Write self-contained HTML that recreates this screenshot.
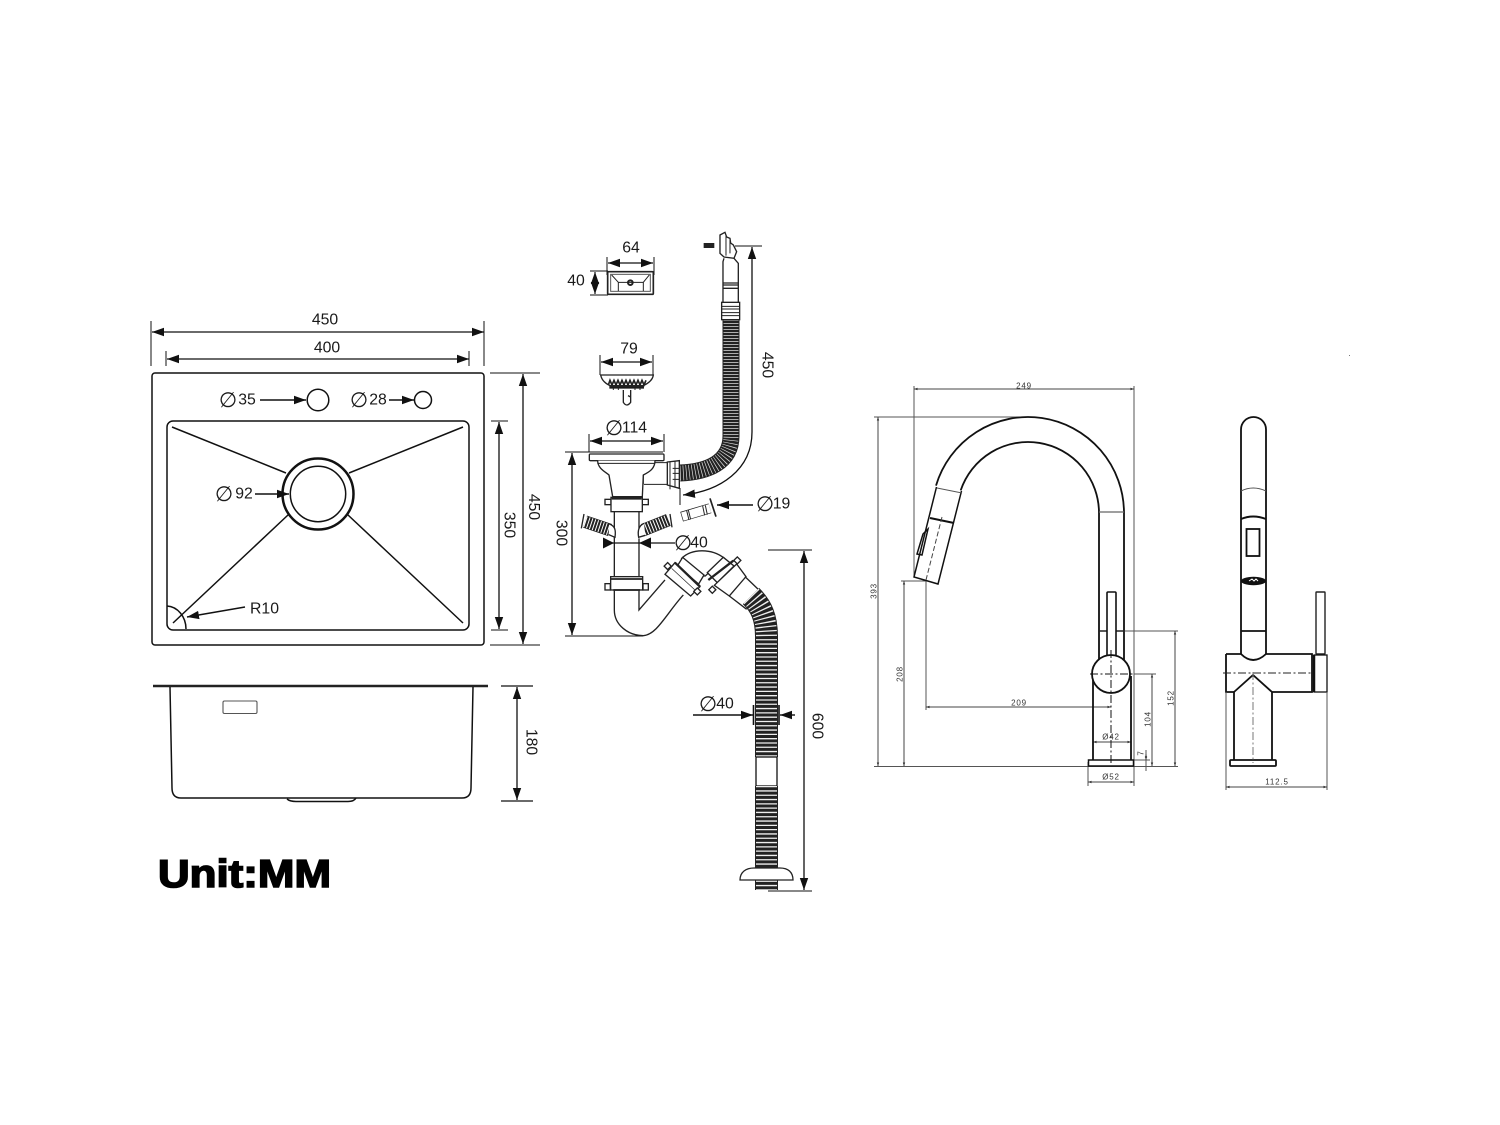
<!DOCTYPE html>
<html><head><meta charset="utf-8"><style>
html,body{margin:0;padding:0;background:#fff;width:1500px;height:1125px;overflow:hidden}
svg{display:block}
text{font-family:"Liberation Sans",sans-serif;fill:#1a1a1a}
.d{font-size:15.8px;text-anchor:middle;dominant-baseline:central}
.p{font-family:"DejaVu Sans",sans-serif;font-size:21px;text-anchor:middle;dominant-baseline:central}
.s{font-size:8px;letter-spacing:.8px;text-anchor:middle;dominant-baseline:central;fill:#333}
.l{fill:none;stroke:#111;stroke-width:1.5}
.a{fill:none;stroke:#111;stroke-width:1.3;marker-start:url(#A);marker-end:url(#A)}
.e{fill:none;stroke:#111;stroke-width:1.4;marker-end:url(#A)}
.g{fill:none;stroke:#555;stroke-width:1}
.t{fill:none;stroke:#444;stroke-width:1;marker-start:url(#B);marker-end:url(#B)}
.k{fill:none;stroke:#111;stroke-width:1.8}
.c{fill:none;stroke:#333;stroke-width:1;stroke-dasharray:8 2.5 2 2.5}
</style></head><body>
<svg width="1500" height="1125" viewBox="0 0 1500 1125" xmlns="http://www.w3.org/2000/svg">
<defs>
<marker id="A" markerUnits="userSpaceOnUse" markerWidth="14" markerHeight="10" refX="12" refY="5" orient="auto-start-reverse"><path d="M0,0.8L12,5L0,9.2Z" fill="#111"/></marker>
<marker id="B" markerUnits="userSpaceOnUse" markerWidth="4" markerHeight="4" refX="3.5" refY="2" orient="auto-start-reverse"><path d="M0,0.8L3.5,2L0,3.2Z" fill="#333"/></marker>
</defs>

<!-- SINK TOP VIEW -->
<rect class="l" x="152" y="373" width="332" height="272" rx="3"/>
<rect class="l" x="167" y="421" width="302" height="209" rx="6" stroke-width="1.7"/>
<path class="l" d="M172,427L286,473M463,427L349,473M173,623L288,515M463,623L348,515" stroke-width="1.3"/>
<circle cx="318" cy="494" r="35.5" fill="none" stroke="#111" stroke-width="2.5"/>
<circle cx="318" cy="494" r="27.7" class="l"/>
<circle cx="318" cy="400" r="10.8" class="l"/>
<circle cx="423" cy="400" r="8.5" class="l"/>
<path class="l" d="M167,606A20,23 0 0 1 186,629" stroke-width="1"/>
<path class="g" d="M151,321V366M484,321V366M166,351V366M469,351V366M490,373H540M490,645H540M491,421H508M491,630H508" style="stroke:#111"/>
<path class="a" d="M152,332H484"/>
<path class="a" d="M167,359H469"/>
<path class="a" d="M523,374V644"/>
<path class="a" d="M499,422V629"/>
<path class="e" d="M260,400H306"/>
<path class="e" d="M389,400H414"/>
<path class="e" d="M255,494H289"/>
<path class="e" d="M245,607L187,617"/>
<text class="d" x="325" y="320">450</text>
<text class="d" x="327" y="348">400</text>
<text class="p" x="228" y="400">∅</text><text class="d" x="247" y="400">35</text>
<text class="p" x="359" y="400">∅</text><text class="d" x="378" y="400">28</text>
<text class="p" x="224" y="494">∅</text><text class="d" x="244" y="494">92</text>
<text class="d" x="264.500" y="609">R10</text>
<text class="d" transform="translate(533.5,507) rotate(90)">450</text>
<text class="d" transform="translate(509,525) rotate(90)">350</text>

<!-- SINK SIDE VIEW -->
<path d="M153,686H488" stroke="#222" stroke-width="2.6" fill="none"/>
<path class="l" d="M170,687L172,788Q172,798 181,798H462Q471,798 471,788L473,687" stroke-width="1.7"/>
<path class="l" d="M287,799Q290,801.500 296,801.500H348Q354,801.500 356,798" stroke-width="1.3" stroke="#444"/>
<rect x="223" y="701" width="34" height="12.500" rx="1.500" fill="none" stroke="#555" stroke-width="1.1"/>
<path class="g" style="stroke:#111;stroke-width:1.300" d="M501,686H533M501,801H533"/>
<path class="a" d="M517,687V800"/>
<text class="d" transform="translate(531,742) rotate(90)">180</text>
<text x="158" y="887" font-size="38.500" font-weight="700" textLength="173" lengthAdjust="spacingAndGlyphs" style="fill:#000;stroke:#000;stroke-width:1.600;font-weight:700">Unit:MM</text>

<!-- CLIP 64x40 -->
<text class="d" x="631" y="248">64</text>
<text class="d" x="576" y="281">40</text>
<path class="g" style="stroke:#111" d="M607,257V275M654,257V275M590,271H608M590,295H608"/>
<path class="a" d="M608,263H653"/>
<path class="l" d="M595,272V294" style="marker-start:url(#A);marker-end:url(#A);stroke-width:1.200"/>
<g transform="translate(560,225) scale(.3333)" fill="none" stroke="#222" stroke-width="4">
<rect x="143" y="140" width="137" height="68" rx="3" stroke-width="5"/>
<rect x="152" y="148" width="119" height="51" stroke-width="3" stroke="#555"/>
<path stroke-width="3" d="M155,150L175,172M268,150L250,172M175,172V198M250,172V198M175,172H250"/>
<circle cx="211" cy="173" r="7" stroke-width="6"/>
</g>

<!-- BASKET 79 -->
<text class="d" x="629" y="349">79</text>
<path class="g" style="stroke:#111" d="M600,355V375M653,355V375"/>
<path class="a" d="M601,362H652"/>
<g transform="translate(560,225) scale(.3333)" fill="none" stroke="#222" stroke-width="4">
<path d="M122,450C125,465 135,475 150,482H250C265,475 278,465 280,450Z" fill="#fff"/>
<path stroke-width="5" d="M145,480L150,466L156,480L162,466L168,480L174,466L180,480L186,466L192,480L198,466L204,480L210,466L216,480L222,466L228,480L234,466L240,480L246,466L252,480L258,466"/>
<rect x="150" y="484" width="100" height="5" fill="#111"/>
<path stroke-width="3" d="M160,489V495M175,489V495M225,489V495M240,489V495"/>
<path d="M190,495V532Q200,548 212,532V495M204,512L212,516"/>
</g>

<!-- OVERFLOW + HOSE -->
<path d="M731,320V436C731,462 708,472 680,473" fill="none" stroke="#222" stroke-width="17"/>
<path d="M731,320V436C731,462 708,472 680,473" fill="none" stroke="#ddd" stroke-width="15" stroke-dasharray="0.700 2.300"/>
<g transform="translate(560,225) scale(.3333)" fill="none" stroke="#222" stroke-width="4">
<path d="M480,30L495,22L500,36L510,40L512,54L520,60L530,80L522,100L492,96L480,85Z" fill="#fff"/>
<path d="M498,30V92M510,45V85" stroke-width="3"/>
<rect x="433" y="56" width="28" height="11" fill="#222"/>
<path d="M492,100L489,110V232M522,100L535,115V232M489,174H537M489,180H537M489,190H537"/>
<rect x="485" y="232" width="54" height="52" fill="#fff"/>
<path d="M485,244H539M485,252H539M485,263H539M485,272H539" stroke-width="3"/>
</g>
<path class="a" d="M752,247V432C752,470 720,491 683,495" style="stroke-width:1.300"/>
<path class="g" style="stroke:#111" d="M735,246H762M680,488V505"/>
<text class="d" transform="translate(767,365) rotate(90)">450</text>

<!-- STRAINER BODY -->
<text class="p" x="614" y="428">∅</text><text class="d" x="634.500" y="428">114</text>
<path class="a" d="M590,441H663"/>
<path class="g" style="stroke:#111" d="M589,434V452M664,434V452M565,452H663M565,636H643"/>
<path class="a" d="M572,453V635"/>
<text class="d" transform="translate(561,533) rotate(90)">300</text>
<g transform="translate(560,440) scale(.3333)" fill="none" stroke="#222" stroke-width="4">
<rect x="88" y="42" width="224" height="20" rx="3" fill="#fff"/>
<path d="M113,62C113,85 135,95 147,105L158,170H247L250,105C270,95 285,85 285,62" fill="#fff"/>
<path d="M112,70H285M250,105V133M285,68H322M252,133H322" stroke-width="3"/>
<path d="M322,66L358,62V145L322,135Z" fill="#fff"/>
<path d="M330,66V140M345,64V142M338,85H358M338,100H358M338,118H358" stroke-width="3"/>
<path d="M330,135V148" stroke-width="3"/>
<rect x="135" y="178" width="18" height="16" fill="#fff"/><rect x="247" y="178" width="18" height="16" fill="#fff"/>
<rect x="153" y="172" width="94" height="43" fill="#fff"/>
<path d="M155,175H245" stroke-width="8"/>
<path d="M163,215V410M237,215V265M237,295V410"/>
<!-- branch stubs -->
<path d="M75,245L150,270" stroke="#222" stroke-width="38"/>
<path d="M75,245L150,270" stroke="#fff" stroke-width="34" stroke-dasharray="3 6"/>
<path d="M148,252C165,258 168,270 165,292L146,284M72,222L64,265" fill="#fff"/>
<path d="M250,270L325,240" stroke="#222" stroke-width="38"/>
<path d="M250,270L325,240" stroke="#fff" stroke-width="34" stroke-dasharray="3 6"/>
<path d="M252,250C238,256 232,270 236,292L256,286M330,222L336,262" fill="#fff"/>
<!-- lower collar -->
<rect x="135" y="431" width="16" height="19" fill="#fff"/><rect x="249" y="431" width="16" height="19" fill="#fff"/>
<rect x="152" y="410" width="96" height="40" fill="#fff"/>
<path d="M152,417H248M160,450H240" stroke-width="5"/>
<!-- trap -->
<path d="M163,452V510C163,555 205,587 250,587C290,585 320,520 370,465"/>
<path d="M237,452V510L315,420"/>
<!-- elbow -->
<path d="M365,355C395,325 455,325 492,354L436,408H428Z" fill="#fff"/>
<path d="M352,378L368,352L432,405L416,432Z" fill="#fff"/>
<path d="M315,403L345,368L420,440L392,468Z" fill="#fff"/>
<path d="M345,368L420,440" stroke-width="7"/>
<path d="M335,385L405,450" stroke-width="2"/>
<rect x="-8" y="-8" width="15" height="15" transform="translate(323,379) rotate(45)" fill="#fff"/>
<rect x="-8" y="-8" width="15" height="15" transform="translate(412,455) rotate(45)" fill="#fff"/>
<path d="M442,398L490,352L522,378L472,428Z" fill="#fff"/>
<path d="M445,420L520,362" stroke-width="7"/>
<path d="M463,436L530,372L558,410L508,468Z" fill="#fff"/>
<rect x="-8" y="-8" width="15" height="15" transform="translate(532,362) rotate(45)" fill="#fff"/>
<rect x="-8" y="-8" width="15" height="15" transform="translate(457,450) rotate(45)" fill="#fff"/>
<path d="M555,410L602,455M508,468L560,508"/>
<!-- 19 piece -->
<path d="M365,230L450,205" stroke="#222" stroke-width="30"/>
<path d="M367,230L450,205" stroke="#fff" stroke-width="26"/>
<path d="M380,212L387,240M385,210L392,238M428,198L434,226M436,196L442,224" stroke-width="3"/>
<path d="M450,175L468,230" stroke-width="5"/>
</g>
<path d="M603,543H675" class="l" style="stroke-width:1.300"/>
<polygon points="603,537.500 603,548.500 614,543" fill="#111"/>
<polygon points="651,537.500 651,548.500 639,543" fill="#111"/>
<text class="p" x="683" y="543">∅</text><text class="d" x="699" y="543">40</text>
<path class="e" d="M753,505H717"/>
<text class="p" x="765" y="504">∅</text><text class="d" x="781.500" y="504">19</text>

<!-- LOWER HOSE -->
<path d="M751,596C761,606 766.500,617 766.500,637V757" fill="none" stroke="#222" stroke-width="23"/>
<path d="M751,596C761,606 766.500,617 766.500,637V757" fill="none" stroke="#eee" stroke-width="21" stroke-dasharray="1.300 3"/>
<rect x="756" y="757" width="21" height="29" fill="#fff" stroke="#111" stroke-width="1.300"/>
<path d="M766.500,786V890" fill="none" stroke="#222" stroke-width="23"/>
<path d="M766.500,786V890" fill="none" stroke="#eee" stroke-width="21" stroke-dasharray="1.300 3"/>
<path d="M740,880C740,872 746,868 754,868H780C788,868 793,872 793,880Z" fill="#fff" stroke="#222" stroke-width="1.300"/>
<path d="M753.500,705V725M779,705V725" stroke="#111" stroke-width="1.600"/>
<path class="e" d="M693,715H753"/>
<path class="e" d="M795,715H780"/>
<text class="p" x="708" y="704">∅</text><text class="d" x="725" y="704">40</text>
<path class="g" style="stroke:#111" d="M768,550H812M768,891H812"/>
<path class="a" d="M804,551V890"/>
<text class="d" transform="translate(817,726) rotate(90)">600</text>

<!-- FAUCET FRONT -->
<path class="g" d="M914,386V577M1134,386V786M874,417H1020M901,581H927M926,581V710M874,766.500H1178M1125,631H1178M1134,674H1156M1134,760H1150M1088,762V786"/>
<path class="t" d="M914,389H1134"/>
<path class="t" d="M878,417V766"/>
<path class="t" d="M904,581V766"/>
<path class="t" d="M926,707H1111"/>
<path class="t" d="M1175,631V766"/>
<path class="t" d="M1152,674V766"/>
<path class="g" d="M1146,750V771"/>
<path class="t" d="M1093,742H1131"/>
<path class="t" d="M1088,782H1134"/>
<path class="k" d="M936,485.600A96,96 0 0 1 1124,513V660"/>
<path class="k" d="M960.700,490.400A71,71 0 0 1 1099,513V660"/>
<path d="M1099,512H1124" stroke="#666" stroke-width="1.200"/>
<path d="M1099,631H1124" stroke="#222" stroke-width="1.400"/>
<path class="l" d="M936.500,487L914,577L938,584L961.500,491" stroke-width="1.500"/>
<path d="M937,488L962,493" stroke="#555" stroke-width="1"/>
<path d="M930,518L954,523" stroke="#111" stroke-width="2"/>
<path d="M942,517L926,580" stroke="#444" stroke-width="1" stroke-dasharray="5 2.500" fill="none"/>
<path class="l" d="M928,529L922,555L917,554L923,534Z" stroke-width="1.300"/>
<rect x="1107" y="592" width="9" height="65" rx="1" fill="#fff" stroke="#111" stroke-width="1.600"/>
<path class="k" d="M1093,676V760M1131,676V760"/>
<circle cx="1111" cy="674" r="19" fill="#fff" stroke="#111" stroke-width="1.800"/>
<rect x="1088.500" y="760" width="45" height="6" fill="#fff" stroke="#111" stroke-width="1.500"/>
<path class="c" style="stroke:#111" d="M1111,650V764M1090,674H1134"/>
<path class="t" d="M1146,754V760"/>
<text class="s" x="1024" y="386">249</text>
<text class="s" transform="translate(874,591) rotate(-90)">393</text>
<text class="s" transform="translate(900,674) rotate(-90)">208</text>
<text class="s" x="1019" y="703">209</text>
<text class="s" transform="translate(1171,698) rotate(-90)">152</text>
<text class="s" transform="translate(1148,719) rotate(-90)">104</text>
<text class="s" transform="translate(1141,753) rotate(-90)">7</text>
<text class="s" x="1111" y="737" style="fill:#333">Ø42</text>
<text class="s" x="1111" y="777">Ø52</text>

<!-- FAUCET SIDE -->
<path class="k" d="M1241,654V429.500A12.500,12.500 0 0 1 1266,429.500V654" stroke-width="1.600"/>
<path d="M1241,491Q1253,485 1266,491" fill="none" stroke="#555" stroke-width="1"/>
<path d="M1241,519Q1253,514 1266,519" fill="none" stroke="#111" stroke-width="2"/>
<rect x="1246.500" y="529" width="13" height="27" fill="#fff" stroke="#111" stroke-width="1.800"/>
<ellipse cx="1253.500" cy="581" rx="12.500" ry="4.200" fill="#111"/>
<path d="M1249,581L1252,579L1254,581L1256,579L1258,581" stroke="#fff" stroke-width="1" fill="none"/>
<path d="M1241,631H1266" stroke="#111" stroke-width="1.800"/>
<path class="k" d="M1226,654V692H1234M1226,654H1241Q1253,666 1266,654H1312V692H1272" stroke-width="1.600"/>
<path class="k" d="M1234,692V760M1272,692V760M1234,692L1253,675L1272,692" stroke-width="1.600"/>
<rect x="1230" y="760" width="46" height="6" rx="1" fill="#fff" stroke="#111" stroke-width="1.800"/>
<rect x="1316" y="592" width="9" height="62" rx="0.500" fill="#fff" stroke="#222" stroke-width="1.400"/>
<rect x="1314" y="655" width="13" height="37" fill="#fff" stroke="#111" stroke-width="1.300"/>
<path d="M1314,655V692" stroke="#111" stroke-width="2.500"/>
<path class="c" d="M1223,673H1312" style="stroke:#222"/>
<path class="c" d="M1253,672V763" style="stroke:#777"/>
<path class="g" d="M1226,692V790M1327,692V790"/>
<path class="t" d="M1226,787H1327"/>
<text class="s" x="1277" y="782">112.5</text>
<rect x="1349" y="355" width="1" height="1" fill="#777"/>
</svg>
</body></html>
